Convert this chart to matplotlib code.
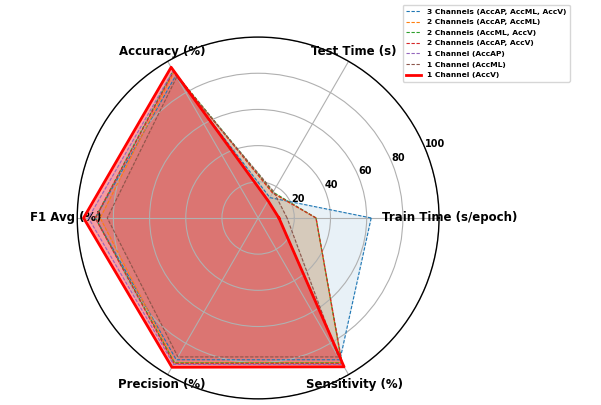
import numpy as np
import matplotlib
matplotlib.use("Agg")
import matplotlib.pyplot as plt

categories = ["Train Time (s/epoch)", "Test Time (s)", "Accuracy (%)",
              "F1 Avg (%)", "Precision (%)", "Sensitivity (%)"]

series_names = ["3 Channels (AccAP, AccML, AccV)",
                "2 Channels (AccAP, AccML)",
                "2 Channels (AccML, AccV)",
                "2 Channels (AccAP, AccV)",
                "1 Channel (AccAP)",
                "1 Channel (AccML)",
                "1 Channel (AccV)"]

ch3_ap_ml_v = [62.5, 13.0, 91.0, 90.0, 90.5, 90.5]
ch2_ap_ml = [32.0, 16.0, 93.0, 87.3, 92.3, 92.3]
ch2_ml_v = [32.0, 16.5, 94.0, 90.0, 92.5, 92.5]
ch2_ap_v = [32.0, 16.0, 93.5, 90.0, 93.0, 93.0]
ch1_ap = [11.5, 11.0, 94.0, 93.8, 93.5, 93.5]
ch1_ml = [16.0, 17.0, 90.0, 83.4, 88.7, 88.7]
ch1_v = [11.5, 11.0, 96.2, 96.5, 95.3, 95.0]

all_series = [ch3_ap_ml_v, ch2_ap_ml, ch2_ml_v, ch2_ap_v, ch1_ap, ch1_ml, ch1_v]
colors = ["#1f77b4", "#ff7f0e", "#2ca02c", "#d62728", "#9467bd", "#8c564b", "red"]

fig = plt.figure(figsize=(6.01, 4.05), dpi=100)
ax = fig.add_axes([0.1285, 0.0148, 0.602, 0.894], projection="polar")

n = len(categories)
angles = np.linspace(0, 2 * np.pi, n, endpoint=False).tolist()
angles_closed = angles + angles[:1]

for name, vals, col in zip(series_names, all_series, colors):
    v = list(vals) + [vals[0]]
    if col == "red":
        ax.plot(angles_closed, v, color=col, linewidth=2.0, linestyle="-", label=name)
        ax.fill(angles_closed, v, color=col, alpha=0.35)
    else:
        ax.plot(angles_closed, v, color=col, linewidth=0.8, linestyle="--",
                dashes=(3, 1.5), label=name)
        ax.fill(angles_closed, v, color=col, alpha=0.1)

ax.set_xticks(angles)
ax.set_xticklabels(categories, fontsize=8.5, fontweight="bold")
ax.tick_params(axis="x", pad=-2.5)
ax.set_ylim(0, 100)
ax.set_yticks([20, 40, 60, 80, 100])
ax.set_yticklabels(["20", "40", "60", "80", "100"], fontsize=7, fontweight="bold")
ax.grid(color="#b0b0b0", linewidth=0.8)
ax.spines["polar"].set_linewidth(1.0)

leg = ax.legend(loc="upper left", bbox_to_anchor=(0.664, 0.997),
                bbox_transform=fig.transFigure, prop={"size": 5.4, "weight": "bold"},
                handlelength=2.0, frameon=True, borderpad=0.45, labelspacing=0.58)

fig.savefig("out.png", dpi=100)
